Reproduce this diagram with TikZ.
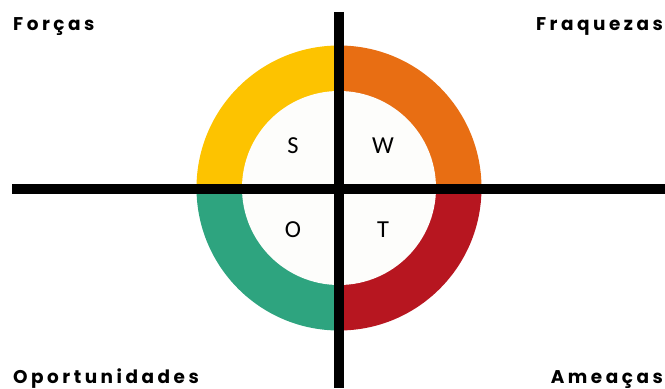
\documentclass[tikz,border=0pt]{standalone}
\usepackage{fontspec}
\newfontfamily\quadfont{Poppins}[LetterSpace=19]
\newfontfamily\letterfont{Carlito}
\usetikzlibrary{positioning}

\definecolor{swotyellow}{HTML}{FDC300}
\definecolor{swotorange}{HTML}{E86E13}
\definecolor{swotred}{HTML}{B71620}
\definecolor{swotgreen}{HTML}{2EA47F}
\definecolor{swotwhite}{HTML}{FDFDFB}

\begin{document}
\begin{tikzpicture}[
    x=1bp, y=1bp,
    axis/.style={line width=10.5bp, black},
    quadlabel/.style={inner sep=0pt, font=\quadfont\bfseries\fontsize{18.5}{20}\selectfont},
    letter/.style={inner sep=0pt, font=\letterfont\fontsize{24.5}{28}\selectfont}
]
\useasboundingbox (0,0) rectangle (665,388);

% Ring quadrants
\fill[swotyellow] (339,200) -- ++(180:142.5) arc (180:90:142.5) -- cycle;
\fill[swotorange] (339,200) -- ++(90:142.5) arc (90:0:142.5) -- cycle;
\fill[swotred] (339,200) -- ++(0:142.5) arc (0:-90:142.5) -- cycle;
\fill[swotgreen] (339,200) -- ++(-90:142.5) arc (-90:-180:142.5) -- cycle;
\fill[swotwhite] (339,200) circle (97);

% Axes
\coordinate (top) at (339,376);
\coordinate (bottom) at (339,0);
\coordinate (left) at (12,199);
\coordinate (right) at (665,199);
\draw[axis] (top) -- (bottom);
\draw[axis] (left) -- (right);

% Letters
\node[letter] (s) at (293,242) {S};
\node[letter] (w) at (383,242) {W};
\node[letter] (o) at (293,158) {O};
\node[letter] (t) at (383,158) {T};

% Quadrant labels
\node[quadlabel, anchor=base west] (forcas) at (13,358) {Forças};
\node[quadlabel, anchor=base east] (fraquezas) at (663,358) {Fraquezas};
\node[quadlabel, anchor=base west] (oportunidades) at (13,5) {Oportunidades};
\node[quadlabel, anchor=base east] (ameacas) at (663,5) {Ameaças};

\end{tikzpicture}
\end{document}
